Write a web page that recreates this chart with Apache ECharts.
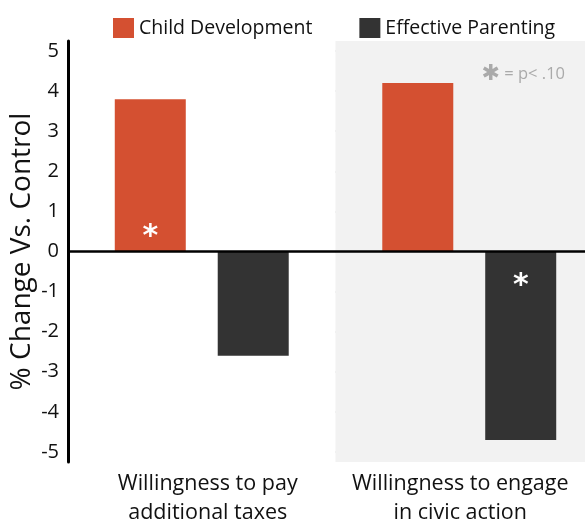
<!DOCTYPE html>
<html><head><meta charset="utf-8">
<script src="https://cdn.jsdelivr.net/npm/echarts@6/dist/echarts.min.js"></script>
<style>html,body{margin:0;padding:0;background:#fff}#c{width:585px;height:520px}</style>
</head><body><div id="c"></div>
<script>
const categories = ['Willingness to pay\nadditional taxes', 'Willingness to engage\nin civic action'];
const seriesNames = ['Child Development', 'Effective Parenting'];
const childDev = [3.8, 4.2];
const effParenting = [-2.6, -4.7];
const childDevSig = [true, false];
const effParentingSig = [false, true];
const yTicks = [-5, -4, -3, -2, -1, 0, 1, 2, 3, 4, 5];
const colors = ['#d45031', '#333333'];
const FONT = 'Open Sans';

function build(vals, sig, pos, dist) {
  return vals.map((v, i) => sig[i] ? {
    value: v,
    label: { show: true, position: pos, distance: dist, formatter: '*', color: '#fff', fontSize: 30, fontFamily: 'DejaVu Sans', fontWeight: 'bold' }
  } : v);
}

const labelStyle = { fontSize: 21.5, color: '#111', lineHeight: 29, fontFamily: FONT };

const chart = echarts.init(document.getElementById('c'), null, { renderer: 'canvas' });
chart.setOption({
  animation: false,
  textStyle: { fontFamily: FONT },
  color: colors,
  title: {
    text: '{a|✱} = p< .10',
    right: 15, top: 58,
    textStyle: { color: '#aaaaaa', fontSize: 16.5, fontWeight: 'normal', fontFamily: FONT,
      rich: { a: { fontSize: 22, color: '#aaaaaa', fontFamily: 'DejaVu Sans' } } }
  },
  legend: {
    top: 13, left: 108, itemWidth: 21, itemHeight: 20, itemGap: 47,
    icon: 'rect',
    textStyle: { fontSize: 19.5, color: '#111', fontFamily: FONT },
    data: seriesNames
  },
  grid: { left: 68, top: 41, width: 535, height: 421, containLabel: false, outerBoundsMode: 'none' },
  xAxis: {
    type: 'category', data: categories,
    axisLine: { show: false, onZero: false },
    axisTick: { show: true, length: 0, interval: 0 },
    axisLabel: Object.assign({
      interval: 0, hideOverlap: false, margin: 7,
      formatter: (v, i) => v.split('\n').map(l => '{c' + i + '|' + l + '}').join('\n'),
      rich: {
        c0: Object.assign({ padding: [0, 0, 0, 12] }, labelStyle),
        c1: Object.assign({ padding: [0, 18, 0, 0] }, labelStyle)
      }
    }, labelStyle),
    splitArea: { show: true, interval: 0, areaStyle: { color: ['#ffffff', '#f2f2f2'] } }
  },
  yAxis: {
    type: 'value', min: -5.25, max: 5.25,
    name: '% Change Vs. Control', nameLocation: 'middle', nameGap: 32, nameMoveOverlap: false,
    nameTextStyle: { fontSize: 28, color: '#111', fontFamily: FONT },
    axisLine: { show: true, lineStyle: { color: '#000', width: 3 } },
    axisTick: { show: false, customValues: yTicks },
    axisLabel: { customValues: yTicks, fontSize: 20, color: '#111', margin: 9, fontFamily: FONT },
    splitLine: { show: true, lineStyle: { color: '#dddddd', width: 2 } }
  },
  series: [
    {
      name: seriesNames[0], type: 'bar', barWidth: 71, barGap: '45%',
      data: build(childDev, childDevSig, 'insideBottom', -1),
      markLine: {
        silent: true, symbol: 'none', label: { show: false },
        lineStyle: { color: '#000', width: 2.5, type: 'solid' },
        data: [{ yAxis: 0 }]
      }
    },
    {
      name: seriesNames[1], type: 'bar', barWidth: 71, barGap: '45%',
      data: build(effParenting, effParentingSig, 'insideTop', 20)
    }
  ]
});
</script></body></html>
